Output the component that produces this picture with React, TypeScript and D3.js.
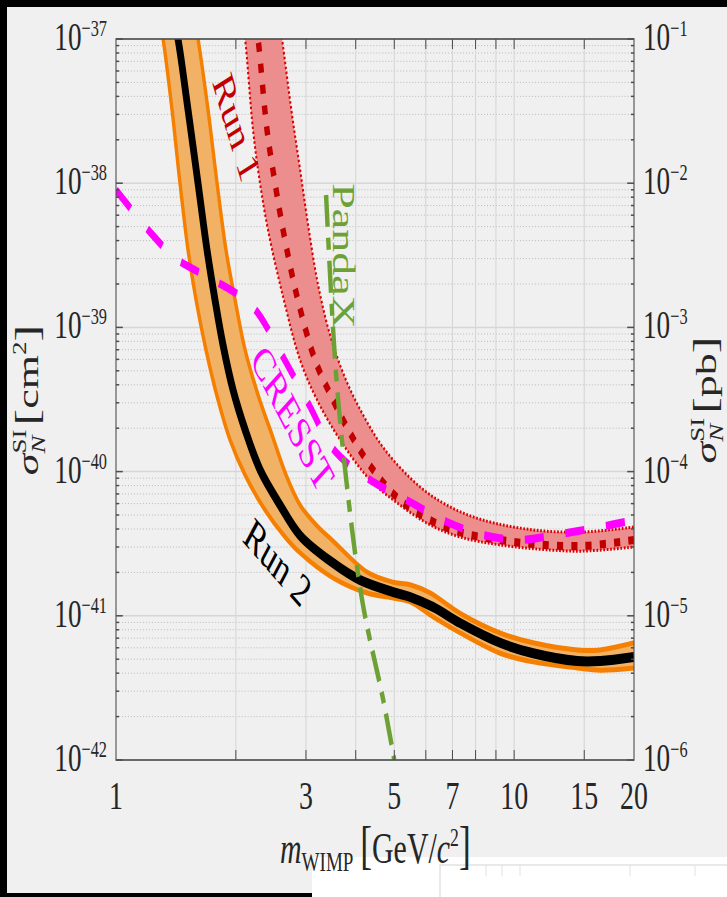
import React, { useEffect, useRef } from 'react';
import * as d3 from 'd3';

// WIMP mass [GeV/c^2] and cross-section [cm^2]

// Run 2 limit (black) and its band (orange)
const run2Mass = [1.40, 1.431, 1.517, 1.607, 1.693, 1.773, 1.857, 1.968, 2.110, 2.30, 2.583, 2.90, 3.51, 4.10, 4.97, 5.48, 6.26, 7.32, 9.22, 11.16, 14.4, 16.45, 20];
const run2Sigma = [1.3e-37, 1.0e-37, 3.22e-38, 1.0e-38, 3.44e-39, 1.55e-39, 7.55e-40, 3.68e-40, 1.95e-40, 1.03e-40, 5.86e-41, 3.6e-41, 2.32e-41, 1.77e-41, 1.46e-41, 1.35e-41, 1.15e-41, 8.9e-42, 6.5e-42, 5.5e-42, 4.86e-42, 4.86e-42, 5.18e-42];
const run2UpperMass = [1.58, 1.607, 1.703, 1.794, 1.889, 1.991, 2.110, 2.274, 2.466, 2.674, 2.90, 3.218, 3.51, 4.27, 4.97, 5.48, 6.15, 7.32, 9.22, 11.16, 14.4, 16.45, 20];
const run2UpperSigma = [1.3e-37, 1.0e-37, 3.22e-38, 1.0e-38, 3.44e-39, 1.55e-39, 6.97e-40, 3.40e-40, 1.79e-40, 9.46e-41, 5.86e-41, 4.13e-41, 3.30e-41, 2.01e-41, 1.71e-41, 1.64e-41, 1.44e-41, 1.04e-41, 7.6e-42, 6.5e-42, 5.8e-42, 5.8e-42, 6.5e-42];
const run2LowerMass = [1.29, 1.313, 1.383, 1.448, 1.517, 1.589, 1.683, 1.804, 1.934, 2.110, 2.368, 2.659, 2.90, 3.51, 4.27, 4.97, 5.48, 6.26, 7.32, 9.22, 11.16, 14.4, 16.45, 20];
const run2LowerSigma = [1.3e-37, 1.0e-37, 3.22e-38, 1.0e-38, 3.44e-39, 1.55e-39, 6.97e-40, 3.14e-40, 1.66e-40, 9.46e-41, 5.42e-41, 3.52e-41, 2.73e-41, 1.83e-41, 1.44e-41, 1.33e-41, 1.25e-41, 9.8e-42, 7.6e-42, 5.5e-42, 4.79e-42, 4.35e-42, 4.2e-42, 4.35e-42];

// Run 1 limit (dotted dark red) and its band (pink)
const run1Mass = [2.24, 2.274, 2.395, 2.509, 2.628, 2.850, 3.162, 3.49, 3.871, 4.422, 5.171, 6.151, 7.445, 9.22, 11.16, 14.91, 20];
const run1Sigma = [1.3e-37, 1.0e-37, 2.34e-38, 1.0e-38, 4.74e-39, 1.63e-39, 5.94e-40, 3.24e-40, 1.85e-40, 1.03e-40, 6.35e-41, 4.61e-41, 3.75e-41, 3.36e-41, 3.15e-41, 3.05e-41, 3.36e-41];
const run1UpperMass = [2.58, 2.613, 2.768, 2.90, 3.037, 3.218, 3.449, 3.762, 4.174, 4.741, 5.805, 6.907, 8.36, 11.16, 14.91, 20];
const run1UpperSigma = [1.3e-37, 1.0e-37, 2.97e-38, 1.24e-38, 5.13e-39, 1.97e-39, 8.85e-40, 4.46e-40, 2.47e-40, 1.41e-40, 7.82e-41, 5.69e-41, 4.61e-41, 3.94e-41, 3.81e-41, 4.13e-41];
const run1LowerMass = [2.08, 2.110, 2.209, 2.30, 2.409, 2.628, 2.90, 3.199, 3.655, 4.346, 5.171, 6.151, 7.317, 9.22, 12.32, 14.91, 20];
const run1LowerSigma = [1.3e-37, 1.0e-37, 2.34e-38, 1.0e-38, 4.74e-39, 1.63e-39, 5.94e-40, 3.14e-40, 1.66e-40, 8.75e-41, 5.86e-41, 4.27e-41, 3.52e-41, 3.10e-41, 2.86e-41, 2.81e-41, 3.00e-41];

// CRESST (magenta dashed)
const cresstMass = [1, 1.217, 1.407, 1.579, 1.773, 2.049, 2.261, 2.628, 3.073, 3.449, 3.939, 4.606, 5.48, 6.786, 8.36, 10.35, 13.05, 16.45, 20];
const cresstSigma = [8.97e-39, 4.59e-39, 3.03e-39, 2.50e-39, 2.10e-39, 1.65e-39, 1.28e-39, 6.24e-40, 2.81e-40, 1.53e-40, 1.06e-40, 7.94e-41, 6.15e-41, 4.47e-41, 3.63e-41, 3.36e-41, 3.69e-41, 4.13e-41, 4.61e-41];

// PandaX (green dash-dot)
const pandaxMass = [3.37, 3.55, 3.74, 4.15, 4.69, 5.0];
const pandaxSigma = [8.28e-39, 5.94e-40, 1.20e-40, 1.29e-41, 2.61e-42, 1e-42];

// axis ticks
const xTickLabels = [1, 3, 5, 7, 10, 15, 20];
const xTickMarks = [2, 3, 4, 5, 6, 7, 8, 9, 10, 15];
const leftExponents = [-37, -38, -39, -40, -41, -42];
const rightExponents = [-1, -2, -3, -4, -5, -6];

const S = 0.68; // the whole figure is squeezed horizontally
const FONT = '"Liberation Serif", "Times New Roman", serif';
const INK = '#262626';

const App = () => {
  const ref = useRef<SVGSVGElement>(null);

  useEffect(() => {
    const svg = d3.select(ref.current);
    svg.selectAll('*').remove();

    // page background and the dark frame bits
    svg.append('rect').attr('width', 727).attr('height', 897).attr('fill', '#f0f0f0');
    svg.append('rect').attr('width', 727).attr('height', 7).attr('fill', '#000');
    svg.append('rect').attr('width', 7).attr('height', 897).attr('fill', '#000');
    svg.append('rect').attr('y', 893).attr('width', 312).attr('height', 4).attr('fill', '#000');
    svg.append('rect').attr('x', 312).attr('y', 857).attr('width', 415).attr('height', 40).attr('fill', '#fff');
    svg.append('path').attr('d', 'M440,897V865H727').attr('fill', 'none').attr('stroke', '#e2e2e2').attr('stroke-width', 1.5);
    [486, 502, 520, 630, 695].forEach(t => {
      svg.append('line').attr('x1', t).attr('x2', t).attr('y1', 865).attr('y2', 876).attr('stroke', '#e2e2e2');
    });

    const g = svg.append('g').attr('transform', `scale(${S},1)`);

    const left = 116 / S;
    const right = 634 / S;
    const top = 39;
    const bottom = 760;

    const x = d3.scaleLog().domain([1, 20]).range([left, right]);
    const y = d3.scaleLog().domain([1e-42, 1e-37]).range([bottom, top]);

    g.append('clipPath').attr('id', 'plot-clip')
      .append('rect')
      .attr('x', left).attr('y', top)
      .attr('width', right - left).attr('height', bottom - top);

    // grid
    const minorY: number[] = [];
    d3.range(-42, -37).forEach(e => {
      d3.range(2, 10).forEach(k => minorY.push(k * Math.pow(10, e)));
    });
    g.selectAll('.minor-grid').data(minorY).enter().append('line')
      .attr('x1', left).attr('x2', right)
      .attr('y1', d => y(d)).attr('y2', d => y(d))
      .attr('stroke', '#b2b2b2').attr('stroke-width', 1)
      .attr('stroke-dasharray', '1.5 2.9');
    g.selectAll('.major-grid').data(leftExponents).enter().append('line')
      .attr('x1', left).attr('x2', right)
      .attr('y1', d => y(Math.pow(10, d))).attr('y2', d => y(Math.pow(10, d)))
      .attr('stroke', '#d6d6d6').attr('stroke-width', 1.5);
    g.selectAll('.x-grid').data(xTickMarks).enter().append('line')
      .attr('x1', d => x(d)).attr('x2', d => x(d))
      .attr('y1', top).attr('y2', bottom)
      .attr('stroke', '#d6d6d6').attr('stroke-width', 1.6);

    const pts = (m: number[], s: number[]) => m.map((v, i) => [v, s[i]] as [number, number]);
    const line = d3.line<[number, number]>()
      .x(d => x(d[0]))
      .y(d => y(d[1]))
      .curve(d3.curveCatmullRom.alpha(0.5));
    const band = (up: [number, number][], low: [number, number][]) =>
      line(up) + line(low.slice().reverse())!.replace(/^M/, 'L') + 'Z';

    const plot = g.append('g').attr('clip-path', 'url(#plot-clip)');

    // Run 1 band
    plot.append('path')
      .attr('d', band(pts(run1UpperMass, run1UpperSigma), pts(run1LowerMass, run1LowerSigma)))
      .attr('fill', '#ed8e8e');
    [pts(run1UpperMass, run1UpperSigma), pts(run1LowerMass, run1LowerSigma)].forEach(p => {
      plot.append('path').attr('d', line(p)).attr('fill', 'none')
        .attr('stroke', '#dc0000').attr('stroke-width', 3)
        .attr('stroke-dasharray', '2.5 2.5');
    });
    plot.append('path').attr('d', line(pts(run1Mass, run1Sigma))).attr('fill', 'none')
      .attr('stroke', '#c00000').attr('stroke-width', 8)
      .attr('stroke-dasharray', '9 12');

    // Run 2 band and limit
    plot.append('path')
      .attr('d', band(pts(run2UpperMass, run2UpperSigma), pts(run2LowerMass, run2LowerSigma)))
      .attr('fill', '#f1b266');
    [pts(run2UpperMass, run2UpperSigma), pts(run2LowerMass, run2LowerSigma)].forEach(p => {
      plot.append('path').attr('d', line(p)).attr('fill', 'none')
        .attr('stroke', '#f57f00').attr('stroke-width', 5);
    });
    plot.append('path').attr('d', line(pts(run2Mass, run2Sigma))).attr('fill', 'none')
      .attr('stroke', '#000').attr('stroke-width', 10).attr('stroke-linejoin', 'round');

    // CRESST
    plot.append('path').attr('d', line(pts(cresstMass, cresstSigma))).attr('fill', 'none')
      .attr('stroke', '#ff00ff').attr('stroke-width', 8)
      .attr('stroke-dasharray', '28 32');

    // PandaX
    plot.append('path').attr('d', line(pts(pandaxMass, pandaxSigma))).attr('fill', 'none')
      .attr('stroke', '#6ea135').attr('stroke-width', 6.5)
      .attr('stroke-dasharray', '32 11 12 11');

    // curve labels
    const note = (txt: string, cx: number, cy: number, angle: number, color: string) => {
      g.append('text')
        .attr('transform', `translate(${cx / S},${cy}) rotate(${angle})`)
        .attr('text-anchor', 'middle').attr('dy', '0.35em')
        .style('font-family', FONT).style('font-size', '46px')
        .attr('fill', color).text(txt);
    };
    note('Run 1', 237, 127, 66.8, '#c00000');
    note('PandaX', 344, 256, 90, '#6ea135');
    note('CRESST', 293, 418, 52.8, '#ff00ff');
    note('Run 2', 278, 562, 38, '#000');

    // axes box and ticks
    g.append('rect')
      .attr('x', left).attr('y', top)
      .attr('width', right - left).attr('height', bottom - top)
      .attr('fill', 'none').attr('stroke', '#4d4d4d').attr('stroke-width', 1.6);
    const tick = (x1: number, y1: number, x2: number, y2: number) =>
      g.append('line').attr('x1', x1).attr('y1', y1).attr('x2', x2).attr('y2', y2)
        .attr('stroke', '#4d4d4d').attr('stroke-width', 1.5);
    xTickMarks.forEach(d => {
      tick(x(d), bottom, x(d), bottom - 10);
      tick(x(d), top, x(d), top + 10);
    });
    minorY.forEach(d => {
      tick(left, y(d), left + 4.5, y(d));
      tick(right, y(d), right - 4.5, y(d));
    });
    leftExponents.forEach(e => {
      tick(left, y(Math.pow(10, e)), left + 10, y(Math.pow(10, e)));
      tick(right, y(Math.pow(10, e)), right - 10, y(Math.pow(10, e)));
    });

    // tick labels
    leftExponents.forEach(e => {
      const t = g.append('text')
        .attr('x', 107 / S).attr('y', y(Math.pow(10, e)) + 11)
        .attr('text-anchor', 'end')
        .style('font-family', FONT).style('font-size', '40px').attr('fill', INK);
      t.append('tspan').text('10');
      t.append('tspan').attr('dy', -14).style('font-size', '24px').text('\u2212' + Math.abs(e));
    });
    rightExponents.forEach((e, i) => {
      const t = g.append('text')
        .attr('x', 643 / S).attr('y', y(Math.pow(10, leftExponents[i])) + 11)
        .style('font-family', FONT).style('font-size', '40px').attr('fill', INK);
      t.append('tspan').text('10');
      t.append('tspan').attr('dy', -14).style('font-size', '24px').text('\u2212' + Math.abs(e));
    });
    g.selectAll('.x-label').data(xTickLabels).enter().append('text')
      .attr('x', d => x(d)).attr('y', 809)
      .attr('text-anchor', 'middle')
      .style('font-family', FONT).style('font-size', '41px').attr('fill', INK)
      .text(d => d);

    // axis titles
    const xt = g.append('text')
      .attr('x', 280 / S).attr('y', 863)
      .style('font-family', FONT).style('font-size', '44px').attr('fill', INK);
    xt.append('tspan').style('font-style', 'italic').text('m');
    xt.append('tspan').attr('dy', 8).style('font-size', '28px').text('WIMP');
    xt.append('tspan').attr('dy', -8).attr('dx', 10).style('font-size', '52px').text('[');
    xt.append('tspan').text('GeV/');
    xt.append('tspan').style('font-style', 'italic').text('c');
    xt.append('tspan').attr('dy', -17).style('font-size', '26px').text('2');
    xt.append('tspan').attr('dy', 17).style('font-size', '52px').text(']');

    const yTitle = (cx: number, unit: string, sup: string) => {
      const t = g.append('text')
        .attr('transform', `translate(${cx / S},400) rotate(-90)`)
        .attr('text-anchor', 'middle')
        .style('font-family', FONT).style('font-size', '44px').attr('fill', INK);
      t.append('tspan').style('font-style', 'italic').text('\u03c3');
      t.append('tspan').attr('dy', -17).style('font-size', '27px').text('SI');
      t.append('tspan').attr('dx', -24).attr('dy', 27).style('font-size', '27px').style('font-style', 'italic').text('N');
      t.append('tspan').attr('dx', 10).attr('dy', -10).style('font-size', '50px').text('[');
      t.append('tspan').text(unit);
      if (sup) t.append('tspan').attr('dy', -17).style('font-size', '27px').text(sup);
      t.append('tspan').attr('dy', sup ? 17 : 0).style('font-size', '50px').text(']');
    };
    yTitle(38, 'cm', '2');
    yTitle(716, 'pb', '');
  }, []);

  return (
    <svg ref={ref} width={727} height={897}
      style={{ position: 'absolute', left: 0, top: 0, display: 'block' }} />
  );
};

export default App;
